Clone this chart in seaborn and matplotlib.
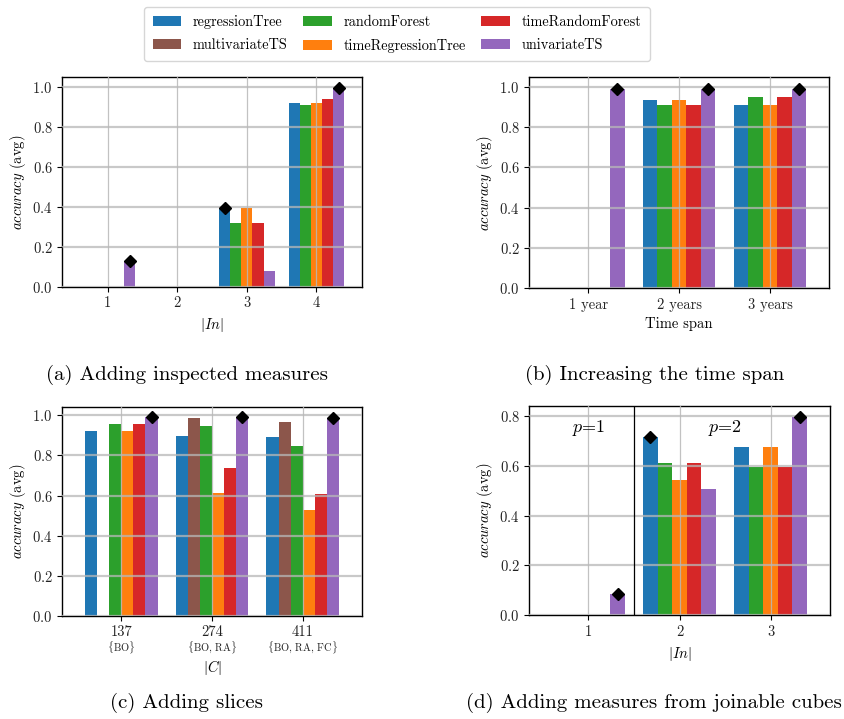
import numpy as np
import pandas as pd
import matplotlib
matplotlib.use("Agg")
import matplotlib.pyplot as plt
import matplotlib.transforms as mtransforms
import seaborn as sns

plt.rcParams['font.family'] = ['cmr10', 'DejaVu Serif']
plt.rcParams['mathtext.fontset'] = 'cm'
plt.rcParams['axes.formatter.use_mathtext'] = True

# ---------------- data ----------------
methods_all = ['regressionTree', 'multivariateTS', 'randomForest',
               'timeRegressionTree', 'timeRandomForest', 'univariateTS']
methods5 = ['regressionTree', 'randomForest', 'timeRegressionTree',
            'timeRandomForest', 'univariateTS']
method_colors = ['#1f77b4', '#8c564b', '#2ca02c', '#ff7f0e', '#d62728', '#9467bd']

# (a) Adding inspected measures
a_groups = ['1', '2', '3', '4']
a_regressionTree = [0.0, 0.0, 0.398, 0.920]
a_randomForest = [0.0, 0.0, 0.320, 0.910]
a_timeRegressionTree = [0.0, 0.0, 0.397, 0.920]
a_timeRandomForest = [0.0, 0.0, 0.320, 0.940]
a_univariateTS = [0.128, 0.0, 0.079, 0.995]

# (b) Increasing the time span
b_groups = ['1 year', '2 years', '3 years']
b_regressionTree = [0.0, 0.934, 0.911]
b_randomForest = [0.0, 0.911, 0.949]
b_timeRegressionTree = [0.0, 0.934, 0.911]
b_timeRandomForest = [0.0, 0.911, 0.949]
b_univariateTS = [0.988, 0.988, 0.988]

# (c) Adding slices
c_groups = ['137', '274', '411']
c_subsets = [r'$\{$BO$\}$', r'$\{$BO, RA$\}$', r'$\{$BO, RA, FC$\}$']
c_regressionTree = [0.923, 0.898, 0.894]
c_multivariateTS = [0.0, 0.988, 0.968]
c_randomForest = [0.958, 0.948, 0.849]
c_timeRegressionTree = [0.923, 0.614, 0.529]
c_timeRandomForest = [0.958, 0.739, 0.609]
c_univariateTS = [0.990, 0.991, 0.985]

# (d) Adding measures from joinable cubes
d_groups = ['1', '2', '3']
d_regressionTree = [0.0, 0.714, 0.674]
d_randomForest = [0.0, 0.610, 0.597]
d_timeRegressionTree = [0.0, 0.542, 0.674]
d_timeRandomForest = [0.0, 0.610, 0.597]
d_univariateTS = [0.084, 0.507, 0.797]

captions = ['(a) Adding inspected measures', '(b) Increasing the time span',
            '(c) Adding slices', '(d) Adding measures from joinable cubes']

palette = dict(zip(methods_all, method_colors))

# ---------------- figure ----------------
W, H = 845, 719
fig = plt.figure(figsize=(W / 100, H / 100), dpi=100)

def px_axes(l, t, r, b):
    return fig.add_axes([l / W, 1 - b / H, (r - l) / W, (b - t) / H])

ax_a = px_axes(62.3, 77.3, 361.7, 287.0)
ax_b = px_axes(529.3, 77.3, 829.0, 288.3)
ax_c = px_axes(62.3, 407.3, 361.7, 616.0)
ax_d = px_axes(529.3, 406.0, 829.7, 615.3)


def draw(ax, groups, values, hue_order, ylim, xlabel, xlabel_y):
    rows = []
    for m in hue_order:
        for g, v in zip(groups, values[m]):
            rows.append({'group': g, 'method': m, 'acc': v})
    df = pd.DataFrame(rows)
    sns.barplot(data=df, x='group', y='acc', hue='method', order=groups,
                hue_order=hue_order, palette=palette, saturation=1,
                width=0.8, linewidth=0, errorbar=None, legend=False, ax=ax)
    # best marker per group
    conts = list(ax.containers)
    for gi in range(len(groups)):
        vals = [values[m][gi] for m in hue_order]
        best = int(np.argmax(vals))
        if vals[best] <= 0:
            continue
        patches = sorted(conts[best].patches, key=lambda p: p.get_x())
        p = patches[gi]
        ax.plot(p.get_x() + p.get_width() / 2, vals[best], marker='D',
                color='black', markersize=6.5, zorder=6, clip_on=False,
                linestyle='none')
    ax.set_ylim(*ylim)
    ax.set_xlim(-0.65, len(groups) - 0.35)
    ax.set_axisbelow(False)
    ax.grid(True, axis='y', color='#b8b8b8', linewidth=1.6, alpha=0.75, zorder=3)
    ax.grid(True, axis='x', color='#b8b8b8', linewidth=0.9, alpha=0.85, zorder=3)
    ax.set_ylabel(r'$accuracy$ (avg)', fontsize=10.5)
    ax.yaxis.set_label_coords(-0.115, 0.5)
    ax.set_xlabel(xlabel, fontsize=10.5)
    ax.xaxis.set_label_coords(0.5, xlabel_y)
    ax.tick_params(axis='both', labelsize=10.5, length=3.5, width=0.8,
                   colors='black', labelcolor='#222222')
    for s in ax.spines.values():
        s.set_visible(True)
        s.set_color('black')
        s.set_linewidth(1.0)
    ax.set_facecolor('white')


draw(ax_a, a_groups,
     {'regressionTree': a_regressionTree, 'randomForest': a_randomForest,
      'timeRegressionTree': a_timeRegressionTree,
      'timeRandomForest': a_timeRandomForest, 'univariateTS': a_univariateTS},
     methods5, (0, 1.05), r'$|In|$', -0.137)
ax_a.set_yticks([0.0, 0.2, 0.4, 0.6, 0.8, 1.0])

draw(ax_b, b_groups,
     {'regressionTree': b_regressionTree, 'randomForest': b_randomForest,
      'timeRegressionTree': b_timeRegressionTree,
      'timeRandomForest': b_timeRandomForest, 'univariateTS': b_univariateTS},
     methods5, (0, 1.047), 'Time span', -0.135)
ax_b.set_yticks([0.0, 0.2, 0.4, 0.6, 0.8, 1.0])

draw(ax_c, c_groups,
     {'regressionTree': c_regressionTree, 'multivariateTS': c_multivariateTS,
      'randomForest': c_randomForest, 'timeRegressionTree': c_timeRegressionTree,
      'timeRandomForest': c_timeRandomForest, 'univariateTS': c_univariateTS},
     methods_all, (0, 1.04), r'$|C|$', -0.203)
ax_c.set_yticks([0.0, 0.2, 0.4, 0.6, 0.8, 1.0])
ax_c.tick_params(axis='x', pad=3)
trans_c = mtransforms.blended_transform_factory(ax_c.transData, ax_c.transAxes)
for i, s in enumerate(c_subsets):
    ax_c.text(i, -0.15, s, transform=trans_c, ha='center', va='center',
              fontsize=7.5, color='#222222')

draw(ax_d, d_groups,
     {'regressionTree': d_regressionTree, 'randomForest': d_randomForest,
      'timeRegressionTree': d_timeRegressionTree,
      'timeRandomForest': d_timeRandomForest, 'univariateTS': d_univariateTS},
     methods5, (0, 0.84), r'$|In|$', -0.142)
ax_d.set_yticks([0.0, 0.2, 0.4, 0.6, 0.8])
ax_d.axvline(0.5, color='black', linewidth=0.9, zorder=4)
ax_d.text(0, 0.75, r'$p$=1', ha='center', va='center', fontsize=13)
ax_d.text(1.5, 0.75, r'$p$=2', ha='center', va='center', fontsize=13)

# captions
cap_pos = [(187 / W, 1 - 374.5 / H), (654.5 / W, 1 - 374.5 / H),
           (186.7 / W, 1 - 703 / H), (654 / W, 1 - 703 / H)]
for (x, y), t in zip(cap_pos, captions):
    fig.text(x, y, t, ha='center', va='center', fontsize=15)

# legend
handles = [plt.Rectangle((0, 0), 1, 1, facecolor=palette[m], edgecolor='none')
           for m in methods_all]
fig.legend(handles, methods_all, loc='center', bbox_to_anchor=(397 / W, 1 - 34 / H),
           ncol=3, fontsize=10.3, frameon=True, columnspacing=1.1,
           handlelength=2.0, handletextpad=0.8, labelspacing=0.65, borderpad=0.6)

fig.savefig('out.png', dpi=100)
